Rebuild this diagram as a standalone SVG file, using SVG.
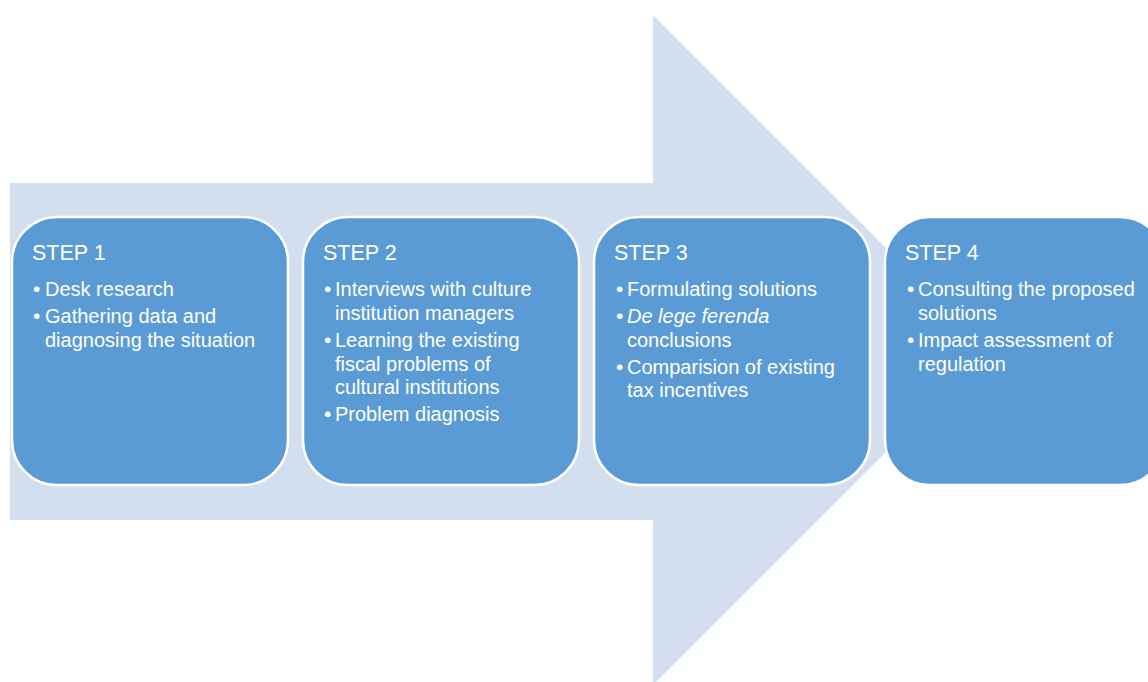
<svg xmlns="http://www.w3.org/2000/svg" width="1148" height="682" viewBox="0 0 1148 682">
<style>
.box{fill:#5B9BD5;stroke:#FFFFFF;stroke-width:2.5}
.h{font-family:"Liberation Sans",Arial,sans-serif;font-size:21.5px;fill:#FFFFFF}
.t{font-family:"Liberation Sans",Arial,sans-serif;font-size:20px;fill:#FFFFFF}
.b{font-family:"Liberation Sans",Arial,sans-serif;font-size:21px;fill:#FFFFFF}
.i{font-style:italic}
</style>
<rect width="1148" height="682" fill="#FFFFFF"/>
<g id="arrow">
<polygon points="10,183 653,183 653,15 988,350 653,685 653,520 10,520" fill="#D3DEEE"/>
</g>
<g id="step1">
<rect class="box" x="12" y="217" width="276" height="268" rx="45" ry="45"/>
<text class="h" x="32" y="260">STEP 1</text>
<text class="b" x="33" y="296">•</text>
<text class="t" x="45" y="296">Desk research</text>
<text class="b" x="33" y="323">•</text>
<text class="t" x="45" y="323">Gathering data and</text>
<text class="t" x="45" y="346.5">diagnosing the situation</text>
</g>
<g id="step2">
<rect class="box" x="303" y="217" width="276" height="268" rx="45" ry="45"/>
<text class="h" x="323" y="260">STEP 2</text>
<text class="b" x="324" y="296">•</text>
<text class="t" x="335" y="296">Interviews with culture</text>
<text class="t" x="335" y="319.5">institution managers</text>
<text class="b" x="324" y="347">•</text>
<text class="t" x="335" y="347">Learning the existing</text>
<text class="t" x="335" y="370.5">fiscal problems of</text>
<text class="t" x="335" y="394">cultural institutions</text>
<text class="b" x="324" y="421">•</text>
<text class="t" x="335" y="421">Problem diagnosis</text>
</g>
<g id="step3">
<rect class="box" x="594" y="217" width="276" height="268" rx="45" ry="45"/>
<text class="h" x="614" y="260">STEP 3</text>
<text class="b" x="616" y="296">•</text>
<text class="t" x="627" y="296">Formulating solutions</text>
<text class="b" x="616" y="323">•</text>
<text class="t i" x="627" y="323">De lege ferenda</text>
<text class="t" x="627" y="346.5">conclusions</text>
<text class="b" x="616" y="373.5">•</text>
<text class="t" x="627" y="373.5">Comparision of existing</text>
<text class="t" x="627" y="397">tax incentives</text>
</g>
<g id="step4">
<rect class="box" x="885" y="217" width="280" height="268" rx="45" ry="45"/>
<text class="h" x="905" y="260">STEP 4</text>
<text class="b" x="907" y="296">•</text>
<text class="t" x="918" y="296">Consulting the proposed</text>
<text class="t" x="918" y="319.5">solutions</text>
<text class="b" x="907" y="347">•</text>
<text class="t" x="918" y="347">Impact assessment of</text>
<text class="t" x="918" y="370.5">regulation</text>
</g>
<g id="connectors"></g>
</svg>
